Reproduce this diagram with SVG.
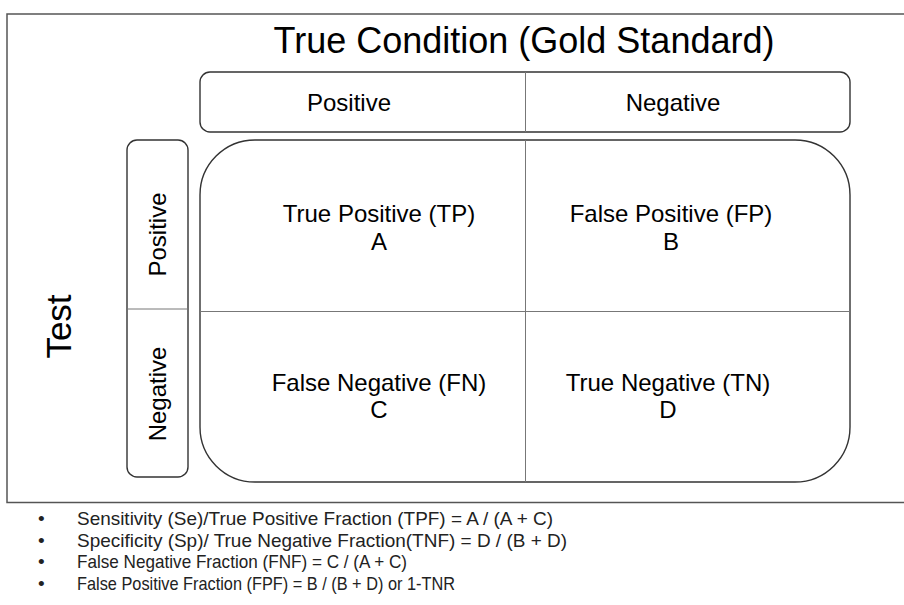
<svg xmlns="http://www.w3.org/2000/svg" width="904" height="605" viewBox="0 0 904 605">
<style>
.box{fill:#fff;stroke:#333;stroke-width:1.4}
.div{stroke:#777;stroke-width:1;fill:none}
.t{font-family:"Liberation Sans",Arial,sans-serif;fill:#000}
.b{font-family:"Liberation Sans",Arial,sans-serif;fill:#222;font-size:19px}
</style>
<rect width="904" height="605" fill="#fff"/>
<g id="frame"><rect x="7" y="14" width="910" height="488.5" fill="none" stroke="#555" stroke-width="1.5"/></g>
<g id="title"><text class="t" x="524" y="52.5" font-size="36" text-anchor="middle">True Condition (Gold Standard)</text></g>
<g id="header">
<rect class="box" x="200" y="72" width="650" height="60" rx="10"/>
<line class="div" x1="525.5" y1="72" x2="525.5" y2="132"/>
<text class="t" x="349" y="111" font-size="24" text-anchor="middle">Positive</text>
<text class="t" x="673" y="111" font-size="24" text-anchor="middle">Negative</text>
</g>
<g id="test-label"><text class="t" transform="translate(71,326.5) rotate(-90)" font-size="35" text-anchor="middle">Test</text></g>
<g id="row-header">
<rect class="box" x="127" y="140" width="61" height="337" rx="10"/>
<line class="div" x1="127" y1="309" x2="188" y2="309"/>
<text class="t" transform="translate(165.5,234.5) rotate(-90)" font-size="24" text-anchor="middle">Positive</text>
<text class="t" transform="translate(165.5,394) rotate(-90)" font-size="24" text-anchor="middle">Negative</text>
</g>
<g id="matrix">
<rect class="box" x="200" y="140" width="650" height="342" rx="55"/>
<line class="div" x1="525.5" y1="140" x2="525.5" y2="482"/>
<line class="div" x1="200" y1="311.5" x2="850" y2="311.5"/>
</g>
<g id="cell-tp"><text class="t" font-size="24" text-anchor="middle"><tspan x="379" y="221.5">True Positive (TP)</tspan><tspan x="379" y="250">A</tspan></text></g>
<g id="cell-fp"><text class="t" font-size="24" text-anchor="middle"><tspan x="671" y="221.5">False Positive (FP)</tspan><tspan x="671" y="250">B</tspan></text></g>
<g id="cell-fn"><text class="t" font-size="24" text-anchor="middle"><tspan x="379" y="390.5">False Negative (FN)</tspan><tspan x="379" y="418">C</tspan></text></g>
<g id="cell-tn"><text class="t" font-size="24" text-anchor="middle"><tspan x="668" y="390.5">True Negative (TN)</tspan><tspan x="668" y="418">D</tspan></text></g>
<g id="connectors"></g>
<g id="notes">
<text class="b" x="38" y="525">•</text><text class="b" x="77" y="525" textLength="476" lengthAdjust="spacingAndGlyphs">Sensitivity (Se)/True Positive Fraction (TPF) = A / (A + C)</text>
<text class="b" x="38" y="546.7">•</text><text class="b" x="77" y="546.7" textLength="490" lengthAdjust="spacingAndGlyphs">Specificity (Sp)/ True Negative Fraction(TNF) = D / (B + D)</text>
<text class="b" x="38" y="568.4">•</text><text class="b" x="77" y="568.4" textLength="330" lengthAdjust="spacingAndGlyphs">False Negative Fraction (FNF) = C / (A + C)</text>
<text class="b" x="38" y="590">•</text><text class="b" x="77" y="590" textLength="378" lengthAdjust="spacingAndGlyphs">False Positive Fraction (FPF) = B / (B + D)  or 1-TNR</text>
</g>
</svg>
